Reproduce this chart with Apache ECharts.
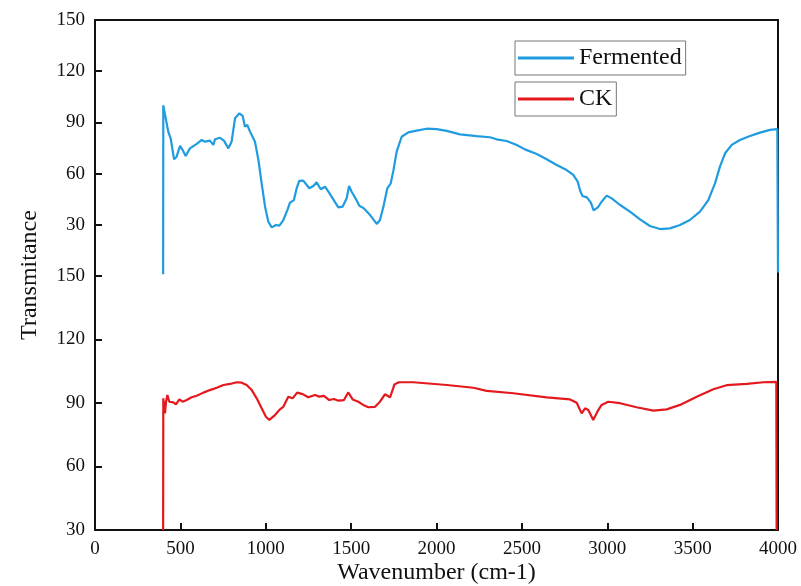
<!DOCTYPE html>
<html>
<head>
<meta charset="utf-8">
<title>FTIR Transmitance</title>
<script src="https://cdn.jsdelivr.net/npm/echarts@6/dist/echarts.min.js"></script>
<style>
    html, body { margin: 0; padding: 0; background: #fff; }
    #chart { width: 801px; height: 586px; }
</style>
</head>
<body>
<div id="chart"></div>
<script>
// ============================================
// 数据
// ============================================
const fermentedWn = [399, 400, 429, 443, 463, 478, 498, 511, 531, 556, 596, 625, 644, 673, 693, 703, 732, 755, 781, 800,
    820, 845, 865, 878, 892, 908, 937, 957, 976, 996, 1015, 1035, 1060, 1080, 1103, 1127, 1142, 1165, 1181, 1196,
    1220, 1255, 1279, 1298, 1322, 1347, 1367, 1392, 1425, 1450, 1474, 1488, 1503, 1529, 1548, 1575, 1611, 1650, 1669, 1689,
    1712, 1732, 1748, 1767, 1796, 1835, 1884, 1942, 2001, 2060, 2138, 2235, 2313, 2352, 2411, 2470, 2518, 2587, 2645, 2704,
    2762, 2801, 2827, 2840, 2854, 2881, 2904, 2920, 2945, 2967, 2997, 3026, 3075, 3133, 3192, 3250, 3309, 3367, 3426, 3484,
    3543, 3592, 3631, 3660, 3690, 3729, 3777, 3836, 3895, 3953, 3996, 4000];
const fermentedT = [1, 100, 84.6, 80.7, 68.4, 69.9, 76.2, 74.2, 70.3, 74.8, 77.4, 79.7, 78.7, 79.3, 76.8, 80.1, 81.0, 79.3, 74.8, 78.7,
    92.4, 95.3, 93.8, 87.5, 88.5, 84.6, 78.7, 68.0, 54.3, 40.6, 31.8, 28.5, 29.9, 29.5, 32.8, 38.7, 43.0, 44.5, 51.4, 55.7,
    55.9, 51.4, 52.7, 54.9, 50.8, 52.3, 49.4, 45.5, 40.2, 40.6, 45.5, 52.7, 49.4, 44.9, 41.2, 39.6, 35.7, 30.5, 32.8, 40.6,
    51.4, 54.3, 62, 73, 81.6, 84.2, 85.2, 86.3, 86.1, 85.0, 83.0, 82.0, 81.3, 80.1, 79.1, 76.8, 74.2, 71.5, 68.4, 65.0,
    62.1, 59.2, 55.3, 50.4, 46.9, 46.1, 43, 38.4, 40.2, 43.5, 47.1, 45.5, 41.6, 37.7, 33.2, 29.3, 27.5, 27.9, 29.9, 32.8,
    37.7, 44.5, 54.3, 64.1, 71.9, 76.8, 79.7, 82.0, 84.0, 85.6, 86.1, 2];

const ckWn = [399, 400, 410, 416, 424, 435, 459, 474, 494, 513, 537, 566, 596, 635, 673, 713, 752, 791, 830, 859,
    888, 918, 947, 976, 1001, 1021, 1054, 1083, 1103, 1132, 1157, 1184, 1216, 1249, 1288, 1314, 1341, 1372, 1400, 1425,
    1458, 1483, 1509, 1542, 1571, 1601, 1640, 1669, 1698, 1728, 1754, 1780, 1864, 2060, 2216, 2294, 2450, 2645, 2782, 2821,
    2850, 2870, 2889, 2918, 2942, 2967, 3006, 3075, 3172, 3270, 3348, 3426, 3524, 3621, 3699, 3817, 3914, 3990, 3992];
const ckT = [30, 92.2, 85.1, 90.6, 93.8, 90.6, 90.3, 89.4, 91.7, 90.6, 91.4, 92.7, 93.4, 94.9, 96.1, 97.2, 98.5, 99.0, 99.8, 99.6,
    98.5, 96.1, 92.2, 87.5, 83.5, 82.0, 84.3, 87.0, 88.2, 93.0, 92.2, 94.9, 94.2, 92.7, 93.8, 93.0, 93.4, 91.4, 91.9, 91.1,
    91.4, 95.0, 91.7, 90.6, 89.1, 88.0, 88.2, 90.6, 94.1, 92.7, 98.8, 99.8, 99.8, 98.5, 97.2, 95.7, 94.6, 92.7, 91.7, 90.1,
    85.1, 87.5, 86.7, 82.0, 85.9, 89.1, 90.6, 89.9, 88.0, 86.4, 87.0, 89.1, 93.0, 96.5, 98.4, 99.0, 99.8, 100.0, 30];

const xTicks = [0, 4000, 500];          // min, max, interval
const yTopTicks = [0, 150, 30];
const yBottomTicks = [30, 150, 30];

// ============================================
// 样式
// ============================================
const FONT = '"Liberation Serif", "Times New Roman", serif';
const INK = '#111111';
const BLUE = '#1f9be0';
const RED = '#e3191e';

function zip(xs, ys) {
    return xs.map((x, i) => [x, ys[i]]);
}

const frameLine = { show: true, onZero: false, lineStyle: { color: INK, width: 2 } };
const ticksIn = { show: true, inside: true, length: 7, lineStyle: { color: INK, width: 2 } };
const labelStyle = { color: INK, fontFamily: FONT, fontSize: 19, margin: 10 };

const chart = echarts.init(document.getElementById('chart'), null, { renderer: 'canvas' });

const option = {
    animation: false,
    backgroundColor: '#ffffff',
    grid: [
        { left: 95, right: 23, top: 20, height: 256 },
        { left: 95, right: 23, top: 276, height: 254 }
    ],
    xAxis: [
        {
            type: 'value', gridIndex: 0, position: 'top',
            min: xTicks[0], max: xTicks[1], interval: xTicks[2],
            axisLine: frameLine, axisTick: { show: false }, axisLabel: { show: false }, splitLine: { show: false }
        },
        {
            type: 'value', gridIndex: 1, position: 'bottom',
            min: xTicks[0], max: xTicks[1], interval: xTicks[2],
            name: 'Wavenumber (cm-1)', nameLocation: 'middle', nameGap: 31,
            nameTextStyle: { color: INK, fontFamily: FONT, fontSize: 24 },
            axisLine: frameLine, axisTick: ticksIn,
            axisLabel: Object.assign({}, labelStyle, { formatter: v => String(v) }),
            splitLine: { show: false }
        }
    ],
    yAxis: [
        {
            type: 'value', gridIndex: 0, position: 'left',
            min: yTopTicks[0], max: yTopTicks[1], interval: yTopTicks[2],
            axisLine: frameLine, axisTick: ticksIn,
            axisLabel: Object.assign({}, labelStyle, { formatter: v => (v === 0 ? '' : String(v)) }),
            splitLine: { show: false }
        },
        {
            type: 'value', gridIndex: 0, position: 'right',
            min: yTopTicks[0], max: yTopTicks[1],
            axisLine: frameLine, axisTick: { show: false }, axisLabel: { show: false }, splitLine: { show: false }
        },
        {
            type: 'value', gridIndex: 1, position: 'left',
            min: yBottomTicks[0], max: yBottomTicks[1], interval: yBottomTicks[2],
            axisLine: frameLine, axisTick: ticksIn, axisLabel: labelStyle, splitLine: { show: false }
        },
        {
            type: 'value', gridIndex: 1, position: 'right',
            min: yBottomTicks[0], max: yBottomTicks[1],
            axisLine: frameLine, axisTick: { show: false }, axisLabel: { show: false }, splitLine: { show: false }
        }
    ],
    legend: [
        {
            data: ['Fermented'], left: 515, top: 41, orient: 'vertical',
            icon: 'rect', itemWidth: 56, itemHeight: 3, padding: [5, 4, 5, 3],
            borderColor: '#777777', borderWidth: 1, selectedMode: false,
            textStyle: { color: INK, fontFamily: FONT, fontSize: 24 }
        },
        {
            data: ['CK'], left: 515, top: 82, orient: 'vertical',
            icon: 'rect', itemWidth: 56, itemHeight: 3, padding: [5, 4, 5, 3],
            borderColor: '#777777', borderWidth: 1, selectedMode: false,
            textStyle: { color: INK, fontFamily: FONT, fontSize: 24 }
        }
    ],
    graphic: [
        {
            type: 'text', x: 30, y: 275, rotation: Math.PI / 2,
            style: {
                text: 'Transmitance', fill: INK, font: '24px ' + FONT,
                align: 'center', verticalAlign: 'middle'
            }
        }
    ],
    series: [
        {
            name: 'Fermented', type: 'line', xAxisIndex: 0, yAxisIndex: 0,
            data: zip(fermentedWn, fermentedT), showSymbol: false, smooth: false,
            color: BLUE, lineStyle: { color: BLUE, width: 2.2 }
        },
        {
            name: 'CK', type: 'line', xAxisIndex: 1, yAxisIndex: 2,
            data: zip(ckWn, ckT), showSymbol: false, smooth: false,
            color: RED, lineStyle: { color: RED, width: 2.2 }
        }
    ]
};

chart.setOption(option);
</script>
</body>
</html>
